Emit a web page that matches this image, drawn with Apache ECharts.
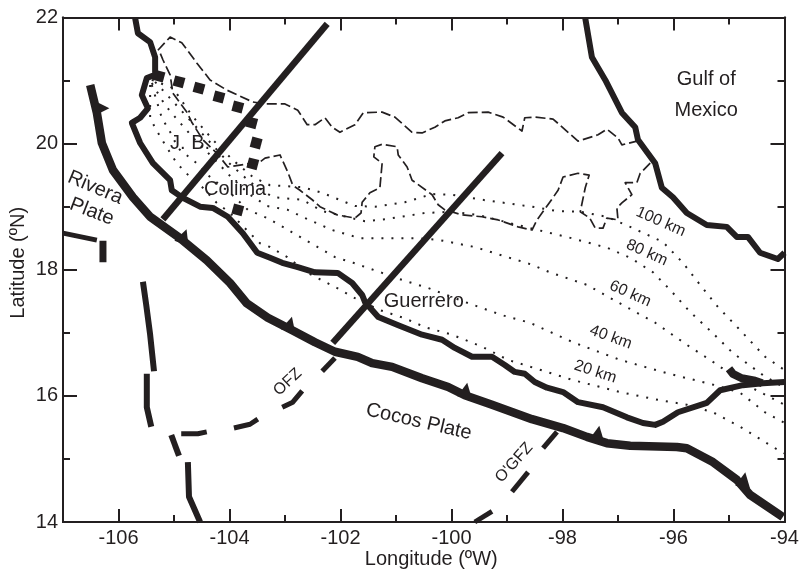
<!DOCTYPE html>
<html><head><meta charset="utf-8">
<style>html,body{margin:0;padding:0;background:#fff}#c{width:801px;height:571px}</style>
<script src="https://cdn.jsdelivr.net/npm/echarts@6/dist/echarts.min.js"></script>
</head><body><div id="c"></div>
<script>
const xMajor=[-106,-104,-102,-100,-98,-96,-94];
const xMinor=[-105,-103,-101,-99,-97,-95];
const yMajor=[14,16,18,20,22];
const yMinor=[15,17,19,21];

const pacificCoast=[[-105.70,21.99],[-105.65,21.75],[-105.43,21.61],[-105.34,21.37],[-105.34,21.09],[-105.49,21.04],[-105.58,20.77],[-105.47,20.56],[-105.61,20.41],[-105.76,20.33],[-105.61,20.01],[-105.38,19.69],[-105.07,19.42],[-105.04,19.26],[-104.84,19.14],[-104.53,19.00],[-104.30,18.98],[-104.03,18.84],[-103.76,18.58],[-103.50,18.27],[-103.27,18.19],[-103.05,18.11],[-102.77,18.04],[-102.46,17.96],[-102.05,17.95],[-101.79,17.79],[-101.61,17.60],[-101.56,17.49],[-101.32,17.25],[-100.96,17.12],[-100.53,16.97],[-100.17,16.89],[-99.94,16.76],[-99.63,16.62],[-99.27,16.62],[-99.04,16.49],[-98.86,16.38],[-98.68,16.35],[-98.50,16.22],[-98.28,16.13],[-97.99,16.06],[-97.72,15.90],[-97.27,15.82],[-96.84,15.66],[-96.55,15.57],[-96.33,15.54],[-96.19,15.59],[-95.92,15.74],[-95.40,15.89],[-95.16,16.09],[-94.75,16.17],[-94.39,16.20],[-94.0,16.22]];
const isthmusWedge=[[-95.0,16.43],[-94.93,16.35],[-94.77,16.28],[-94.53,16.24],[-94.40,16.20]];
const gulfCoast=[[-97.59,21.99],[-97.47,21.37],[-97.23,21.01],[-96.93,20.49],[-96.69,20.26],[-96.64,20.06],[-96.33,19.69],[-96.21,19.30],[-96.01,19.15],[-95.76,18.90],[-95.40,18.71],[-95.04,18.68],[-94.86,18.52],[-94.66,18.52],[-94.44,18.27],[-94.12,18.17],[-94.0,18.27]];
const trench=[[-106.51,20.93],[-106.39,20.49],[-106.30,20.01],[-106.10,19.58],[-105.74,19.15],[-105.43,18.84],[-104.89,18.50],[-104.41,18.15],[-103.99,17.79],[-103.69,17.47],[-103.31,17.24],[-102.87,17.04],[-102.46,16.85],[-102.10,16.70],[-101.69,16.62],[-101.43,16.52],[-101.07,16.46],[-100.53,16.28],[-100.06,16.14],[-99.76,16.01],[-99.27,15.86],[-98.55,15.63],[-97.99,15.49],[-97.56,15.35],[-97.20,15.25],[-96.78,15.21],[-95.94,15.19],[-95.76,15.17],[-95.29,14.95],[-94.86,14.67],[-94.62,14.43],[-94.03,14.08]];
const trenchTeeth=[[-106.30,20.56],[-104.82,18.53],[-102.91,17.14],[-99.74,16.09],[-97.36,15.41],[-94.73,14.67]];
const toothTurn=[-90,-20,-15,-10,-10,-10];

const riveraA=[[-107,18.58],[-106.39,18.47]];
const riveraB=[[-106.28,18.46],[-106.28,18.12]];
const westA=[[-105.56,17.81],[-105.50,17.44],[-105.43,16.97],[-105.36,16.39]];
const westB=[[-105.49,16.35],[-105.49,15.82],[-105.41,15.51]];
const westC=[[-105.05,15.38],[-104.91,15.05]];
const westD=[[-104.75,14.95],[-104.73,14.40],[-104.53,14.0]];
const ofzA=[[-104.87,15.40],[-104.57,15.40],[-104.41,15.43]];
const ofzB=[[-103.92,15.49],[-103.63,15.55],[-103.49,15.63]];
const ofzC=[[-103.05,15.82],[-102.86,15.90],[-102.69,16.08]];
const ofzD=[[-102.33,16.39],[-102.10,16.60]];
const ogfzA=[[-98.35,15.17],[-98.10,15.43]];
const ogfzB=[[-98.91,14.48],[-98.62,14.79]];
const ogfzC=[[-99.58,14.0],[-99.27,14.17]];
const profileNorth=[[-105.20,18.80],[-102.24,21.90]];
const profileSouth=[[-102.14,16.84],[-99.09,19.85]];

const jaliscoBlock=[[-105.27,21.07],[-104.91,20.98],[-104.55,20.88],[-104.19,20.74],[-103.85,20.58],[-103.60,20.33],[-103.52,20.01],[-103.58,19.68],[-103.85,18.95]];

const beltNorth=[[-105.29,21.48],[-105.07,21.69],[-104.86,21.60],[-104.59,21.28],[-104.35,21.01],[-104.05,20.85],[-103.58,20.66],[-103.36,20.63],[-103.0,20.63],[-102.77,20.53],[-102.60,20.30],[-102.46,20.30],[-102.28,20.41],[-102.15,20.26],[-102.01,20.18],[-101.74,20.30],[-101.59,20.49],[-101.25,20.50],[-101.02,20.42],[-100.71,20.18],[-100.53,20.17],[-100.30,20.26],[-100.12,20.36],[-99.88,20.41],[-99.70,20.49],[-99.34,20.50],[-99.07,20.42],[-98.73,20.20],[-98.68,20.41],[-98.50,20.42],[-98.17,20.39],[-97.72,20.04],[-97.36,20.14],[-97.20,20.23],[-97.0,20.09],[-96.93,19.98],[-96.66,20.04]];
const beltSouth=[[-96.42,19.69],[-96.60,19.53],[-96.66,19.38],[-96.87,19.38],[-96.75,19.19],[-96.93,19.06],[-97.02,18.98],[-97.0,18.79],[-97.20,18.82],[-97.27,18.66],[-97.41,18.66],[-97.51,18.82],[-97.68,18.92],[-97.59,19.30],[-97.52,19.50],[-97.72,19.53],[-97.99,19.47],[-98.08,19.26],[-98.23,19.07],[-98.46,18.79],[-98.55,18.63],[-98.80,18.68],[-99.16,18.79],[-99.45,18.84],[-99.81,18.87],[-100.12,18.95],[-100.24,19.03],[-100.35,19.19],[-100.71,19.42],[-100.80,19.63],[-100.96,19.82],[-100.98,19.95],[-101.25,19.99],[-101.38,19.95],[-101.40,19.79],[-101.25,19.69],[-101.29,19.30],[-101.47,19.22],[-101.61,19.07],[-101.63,18.90],[-101.74,18.82],[-102.06,18.87],[-102.37,19.00],[-102.51,19.11],[-102.73,19.26],[-102.86,19.34],[-102.95,19.55],[-103.09,19.82],[-103.36,19.77],[-103.45,19.71],[-104.03,19.63],[-104.23,19.85],[-104.48,20.06],[-104.68,20.34],[-104.77,20.50],[-105.02,20.80],[-105.07,21.09],[-105.20,21.33],[-105.27,21.48]];

const depth100=[[-105.40,21.01],[-105.02,20.88],[-104.68,20.45],[-104.30,20.06],[-103.94,19.74],[-103.58,19.47],[-103.27,19.34],[-102.69,19.31],[-102.33,19.22],[-101.74,19.01],[-101.38,19.00],[-100.84,19.07],[-100.35,19.20],[-99.99,19.19],[-99.45,19.11],[-98.55,19.00],[-98.10,18.93],[-97.68,18.92],[-97.20,18.84],[-96.78,18.68],[-96.19,18.44],[-95.83,18.11],[-95.52,17.76],[-95.20,17.41],[-94.84,17.08],[-94.35,16.62],[-94.0,16.41]];
const depth80=[[-105.34,20.98],[-105.04,20.69],[-104.71,20.37],[-104.39,20.06],[-104.03,19.71],[-103.63,19.39],[-103.22,19.15],[-102.69,19.11],[-102.33,18.93],[-101.56,18.77],[-101.20,18.80],[-100.48,18.90],[-99.99,18.92],[-99.52,18.87],[-98.59,18.66],[-97.92,18.52],[-97.20,18.35],[-96.78,18.19],[-96.37,17.96],[-96.06,17.68],[-95.70,17.33],[-95.31,17.01],[-94.93,16.68],[-94.39,16.33],[-94.0,16.13]];
const depth60=[[-105.40,20.96],[-105.16,20.61],[-104.93,20.37],[-104.62,20.06],[-104.26,19.74],[-103.95,19.45],[-103.63,19.19],[-103.32,19.01],[-102.95,18.95],[-102.64,18.82],[-102.15,18.63],[-101.65,18.50],[-100.60,18.50],[-100.21,18.47],[-99.58,18.36],[-98.55,18.08],[-98.23,17.96],[-97.56,17.76],[-96.91,17.44],[-96.33,17.16],[-95.76,16.81],[-95.29,16.54],[-94.68,16.17],[-94.0,15.86]];
const depth40=[[-105.40,20.93],[-105.22,20.41],[-105.04,20.14],[-104.93,19.93],[-104.59,19.69],[-104.35,19.47],[-103.99,19.22],[-103.67,18.95],[-103.32,18.82],[-103.04,18.68],[-102.73,18.52],[-102.41,18.36],[-102.10,18.20],[-101.77,18.11],[-101.25,17.95],[-100.93,17.85],[-100.42,17.71],[-99.76,17.49],[-99.09,17.28],[-98.59,17.16],[-97.81,16.85],[-96.96,16.57],[-96.12,16.36],[-95.25,16.17],[-94.80,16.05],[-94.35,15.74],[-94.0,15.57]];
const depth20=[[-105.43,20.93],[-105.43,20.41],[-105.34,20.25],[-105.16,19.98],[-104.95,19.69],[-104.71,19.47],[-104.48,19.30],[-104.23,19.06],[-103.99,18.90],[-103.69,18.63],[-103.45,18.42],[-103.27,18.36],[-102.96,18.20],[-102.55,17.93],[-102.06,17.71],[-101.74,17.55],[-101.29,17.36],[-100.84,17.23],[-100.48,17.09],[-99.99,16.97],[-99.45,16.78],[-98.98,16.57],[-98.50,16.44],[-97.81,16.25],[-96.96,16.06],[-96.24,15.93],[-95.76,15.86],[-95.29,15.74],[-94.80,15.51],[-94.17,15.17],[-94.0,15.09]];

const noteText=["Gulf of","Mexico","Guerrero","Colima","J. B.","Rivera","Plate","Cocos Plate","OFZ","O'GFZ","100 km","80 km","60 km","40 km","20 km"];
const noteLon=[-95.41,-95.41,-100.50,-103.90,-104.71,-106.42,-106.48,-100.59,-102.95,-98.87,-96.23,-96.48,-96.78,-97.13,-97.41];
const noteLat=[21.02,20.53,17.50,19.28,20.01,19.30,18.92,15.59,16.22,14.94,18.76,18.27,17.62,16.93,16.38];
const noteTurn=[0,0,0,0,0,-23,-21,-13,43,48,-24,-24,-24,-20,-18];
const noteSize=[20,20,20,20,20,20,20,20,16,16,16,16,16,16,16];

const INK='#231f20', FONT='"Liberation Sans",Arial,sans-serif';
function line(data,width,extra){return Object.assign({type:'line',data:data,symbol:'none',silent:true,clip:true,
  lineStyle:{color:INK,width:width,join:'round',opacity:1}},extra||{});}
function dashed(d){const s=line(d,1.7);s.lineStyle.type=[10,4];return s;}
function dotted(d){const s=line(d,2);s.lineStyle.type=[2,8];return s;}
function xA(pos,vals,len,lab){return {type:'value',min:-107,max:-94,position:pos,nameMoveOverlap:false,
  axisLine:{show:true,onZero:false,lineStyle:{color:INK,width:2}},splitLine:{show:false},
  axisTick:{show:true,inside:true,length:len,customValues:vals,lineStyle:{color:INK,width:2}},
  axisLabel:lab?{show:true,customValues:xMajor,color:INK,fontSize:20,fontFamily:FONT,margin:6,hideOverlap:false,showMinLabel:true,showMaxLabel:true}:{show:false}};}
function yA(pos,vals,len,lab){return {type:'value',min:14,max:22,position:pos,nameMoveOverlap:false,
  axisLine:{show:true,onZero:false,lineStyle:{color:INK,width:2}},splitLine:{show:false},
  axisTick:{show:true,inside:true,length:len,customValues:vals,lineStyle:{color:INK,width:2}},
  axisLabel:lab?{show:true,customValues:yMajor,color:INK,fontSize:20,fontFamily:FONT,margin:5,showMinLabel:true,showMaxLabel:true}:{show:false}};}

const xAxes=[xA('bottom',xMajor,13,true),xA('bottom',xMinor,7,false),xA('top',xMajor,13,false),xA('top',xMinor,7,false)];
xAxes[0].name='Longitude (ºW)';xAxes[0].nameLocation='middle';xAxes[0].nameGap=27;
xAxes[0].nameTextStyle={color:INK,fontSize:20,fontFamily:FONT,padding:[0,0,0,15]};
const yAxes=[yA('left',yMajor,14,true),yA('left',yMinor,7,false),yA('right',yMajor,14,false),yA('right',yMinor,7,false)];
yAxes[0].name='Latitude (ºN)';yAxes[0].nameLocation='middle';yAxes[0].nameGap=35;
yAxes[0].nameTextStyle={color:INK,fontSize:20,fontFamily:FONT,padding:[0,0,0,14]};

const series=[
  dotted(depth100),dotted(depth80),dotted(depth60),dotted(depth40),dotted(depth20),
  dashed(beltNorth),dashed(beltSouth),
  line(pacificCoast,6),line(isthmusWedge,8),line(gulfCoast,6),line(trench,8.5),
  line(riveraA,5),line(riveraB,7),
  line(westA,6),line(westB,6),line(westC,6),line(westD,6),
  line(ofzA,5),line(ofzB,5),line(ofzC,5),line(ofzD,5),
  line(ogfzA,5),line(ogfzB,5),line(ogfzC,5),
  line(profileNorth,6.5),line(profileSouth,6.5),
  {type:'scatter',silent:true,symbol:'triangle',symbolSize:15,itemStyle:{color:INK,opacity:1},
    data:trenchTeeth.map((p,i)=>({value:p,symbolRotate:toothTurn[i]}))},
  {type:'scatter',silent:true,symbol:'rect',symbolSize:10.5,symbolRotate:-15,itemStyle:{color:INK,opacity:1},data:jaliscoBlock},
  {type:'scatter',silent:true,symbol:'circle',symbolSize:0,z:10,itemStyle:{opacity:1},
    data:noteText.map((t,i)=>({value:[noteLon[i],noteLat[i]],
      label:{show:true,position:'inside',formatter:t,rotate:noteTurn[i],fontSize:noteSize[i],fontFamily:FONT,color:INK,opacity:1,align:'center',verticalAlign:'middle'}}))}
];
const chart=echarts.init(document.getElementById('c'),null,{renderer:'canvas'});
chart.setOption({animation:false,backgroundColor:'#fff',
  grid:{left:63,right:16.5,top:17.5,bottom:49,containLabel:false,outerBoundsMode:'none'},
  xAxis:xAxes,yAxis:yAxes,series:series});
</script></body></html>
